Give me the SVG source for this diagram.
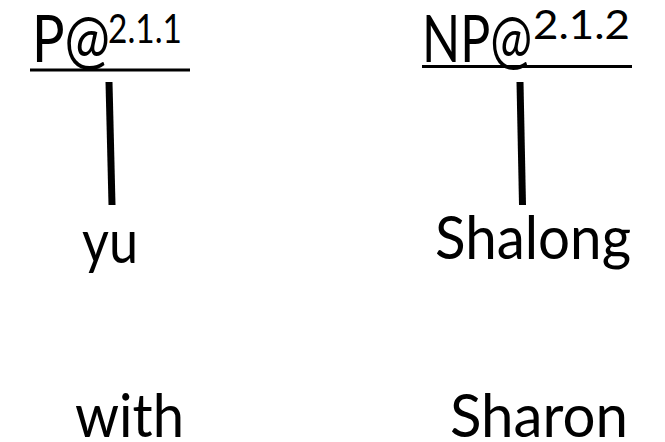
<svg xmlns="http://www.w3.org/2000/svg" width="665" height="442" viewBox="0 0 665 442">
  <style>
    text { font-family: "Lato", "Open Sans", "Liberation Sans", sans-serif; fill: #000; }
    .cat { font-size: 66px; }
    .word { font-size: 60px; }
    .sup { font-size: 40px; }
    .rule { stroke: #000; stroke-width: 3; }
    .edge { stroke: #000; stroke-width: 7; }
  </style>
  <rect width="665" height="442" fill="#fff"/>

  <!-- left category node: label with raised index, underlined -->
  <g id="node-p">
    <text x="32" y="62"><tspan class="cat" textLength="78" lengthAdjust="spacingAndGlyphs">P@</tspan><tspan class="sup" x="108" y="43" textLength="74" lengthAdjust="spacingAndGlyphs">2.1.1</tspan></text>
    <line class="rule" x1="30" y1="70" x2="190" y2="70"/>
  </g>

  <!-- right category node -->
  <g id="node-np">
    <text x="422" y="62"><tspan class="cat" textLength="110" lengthAdjust="spacingAndGlyphs">NP@</tspan><tspan class="sup" x="533" y="39" textLength="97" lengthAdjust="spacingAndGlyphs">2.1.2</tspan></text>
    <line class="rule" x1="422" y1="66.5" x2="632" y2="66.5"/>
  </g>

  <!-- connectors from categories down to words -->
  <g id="connectors">
    <line class="edge" x1="109" y1="82" x2="112" y2="205"/>
    <line class="edge" x1="520" y1="82" x2="522.5" y2="205"/>
  </g>

  <!-- source words -->
  <g id="word-yu">
    <text class="word" x="82" y="263" textLength="56" lengthAdjust="spacingAndGlyphs">yu</text>
  </g>
  <g id="word-shalong">
    <text class="word" x="435" y="259" textLength="196" lengthAdjust="spacingAndGlyphs">Shalong</text>
  </g>

  <!-- glosses -->
  <g id="gloss-with">
    <text class="word" x="75" y="437" textLength="109" lengthAdjust="spacingAndGlyphs">with</text>
  </g>
  <g id="gloss-sharon">
    <text class="word" x="450" y="437" textLength="178" lengthAdjust="spacingAndGlyphs">Sharon</text>
  </g>
</svg>
